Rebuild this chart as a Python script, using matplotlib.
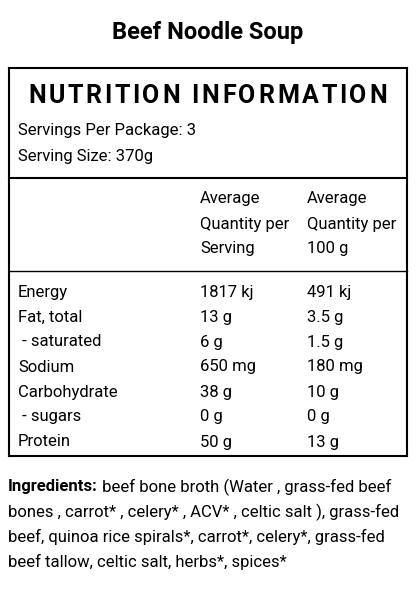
import matplotlib
matplotlib.use("Agg")
import matplotlib.pyplot as plt
from matplotlib.lines import Line2D

title = "Beef Noodle Soup"
header = "NUTRITION INFORMATION"
servings = ["Servings Per Package: 3", "Serving Size: 370g"]
col_heads = [["Average", "Quantity per", "Serving"], ["Average", "Quantity per", "100 g"]]
nutrients = ["Energy", "Fat, total", " - saturated", "Sodium", "Carbohydrate", " - sugars", "Protein"]
per_serving = ["1817 kj", "13 g", "6 g", "650 mg", "38 g", "0 g", "50 g"]
per_100g = ["491 kj", "3.5 g", "1.5 g", "180 mg", "10 g", "0 g", "13 g"]
ingr_lines = [" beef bone broth (Water , grass-fed beef",
              "bones , carrot* , celery* , ACV* , celtic salt ), grass-fed",
              "beef, quinoa rice spirals*, carrot*, celery*, grass-fed",
              "beef tallow, celtic salt, herbs*, spices*"]

W, H = 416, 592
fig = plt.figure(figsize=(W/100, H/100), dpi=100)
fig.patch.set_facecolor("white")
plt.rcParams['font.family'] = ['Roboto', 'DejaVu Sans']
FS = 12

def T(x, y, s, **kw):
    return fig.text(x/W, 1-y/H, s, va="center", **kw)

def L(x0, x1, y, lw):
    fig.add_artist(Line2D([x0/W, x1/W], [1-y/H, 1-y/H], color="black", lw=lw, transform=fig.transFigure))

T(208, 33, title, ha="center", fontsize=17, fontweight="bold")
L(9, 407, 68, 1.5)
L(9, 407, 456, 1.5)
fig.add_artist(Line2D([9/W, 9/W], [1-68/H, 1-456/H], color="black", lw=1.5, transform=fig.transFigure))
fig.add_artist(Line2D([407/W, 407/W], [1-68/H, 1-456/H], color="black", lw=1.5, transform=fig.transFigure))
L(9, 407, 178, 1.5)
L(9, 407, 271, 1.0)

# letter-spaced header
fig.canvas.draw()
r = fig.canvas.get_renderer()
chars = []
widths = []
for ch in header:
    t = T(0, 96, ch, fontsize=18, fontweight="bold")
    w = t.get_window_extent(r).width if ch != " " else 6
    chars.append(t); widths.append(w)
x0, x1 = 28, 387
extra = (x1 - x0 - sum(widths)) / (len(header) - 1)
x = x0
for t, w in zip(chars, widths):
    t.set_x(x/W)
    x += w + extra

for i, s in enumerate(servings):
    T(18, 131 + 26*i, s, fontsize=FS)
for j, col in enumerate(col_heads):
    for i, s in enumerate(col):
        T([200, 307][j], 199 + 25*i, s, fontsize=FS)
for i in range(len(nutrients)):
    y = 292 + 25*i
    T(18, y, nutrients[i], fontsize=FS)
    T(200, y, per_serving[i], fontsize=FS)
    T(307, y, per_100g[i], fontsize=FS)

b = T(8, 487, "Ingredients:", fontsize=FS, fontweight="bold")
fig.canvas.draw()
bb = b.get_window_extent()
T(bb.x1, 487, ingr_lines[0], fontsize=FS)
for i, s in enumerate(ingr_lines[1:]):
    T(8, 512 + 25*i, s, fontsize=FS)

fig.savefig("out.png", dpi=100)
